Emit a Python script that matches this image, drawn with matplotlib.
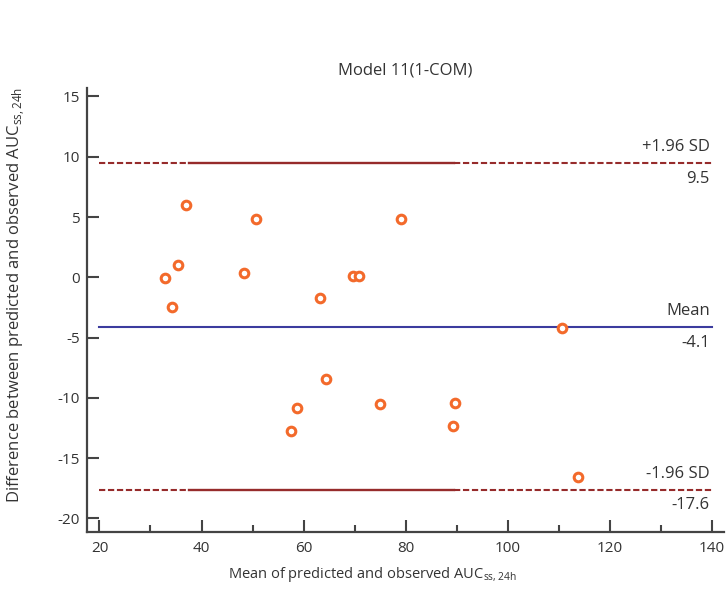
import matplotlib
matplotlib.use("Agg")
import matplotlib.pyplot as plt

plt.rcParams['font.family'] = ['Open Sans', 'DejaVu Sans']
plt.rcParams['axes.unicode_minus'] = False

# mean of predicted and observed / difference (Bland-Altman)
mean_auc = [37.0, 50.7, 79.0, 35.4, 32.9, 48.4, 34.3, 63.3, 69.7, 70.9,
            110.6, 64.4, 58.7, 57.6, 74.9, 89.7, 89.3, 113.8]
diff_auc = [6.0, 4.84, 4.84, 1.0, -0.03, 0.36, -2.44, -1.69, 0.13, 0.13,
            -4.2, -8.46, -10.87, -12.73, -10.54, -10.4, -12.32, -16.6]

mean_diff = -4.1
upper_loa = 9.5
lower_loa = -17.6
x_ticks = [20, 40, 60, 80, 100, 120, 140]
y_ticks = [15, 10, 5, 0, -5, -10, -15, -20]

txt = '#333333'
axc = '#444444'
red = '#962B2B'
blue = '#3C3C9E'
orange = '#F36A2B'

fig = plt.figure(figsize=(7.28, 5.91), dpi=100)
ax = fig.add_axes([0.1191, 0.1003, 0.8754, 0.7507])

# limit lines: dashed outside, solid middle part
for lv in (upper_loa, lower_loa):
    ax.plot([20, 37.6], [lv, lv], color=red, lw=1.5, ls=(0, (3, 1.3)))
    ax.plot([37.6, 89.5], [lv, lv], color=red, lw=1.7)
    ax.plot([89.5, 140], [lv, lv], color=red, lw=1.5, ls=(0, (3, 1.3)))
ax.plot([20, 140], [mean_diff, mean_diff], color=blue, lw=1.5)

ax.plot(mean_auc, diff_auc, 'o', ms=6.2, mfc='white', mec=orange, mew=2.2)

# labels at right end of lines
for lv, top, bot in ((upper_loa, '+1.96 SD', '9.5'),
                     (mean_diff, 'Mean', '-4.1'),
                     (lower_loa, '-1.96 SD', '-17.6')):
    ax.annotate(top, (139.6, lv), xytext=(0, 11.5), textcoords='offset points',
                ha='right', va='center', fontsize=12, color=txt)
    ax.annotate(bot, (139.6, lv), xytext=(0, -11.5), textcoords='offset points',
                ha='right', va='center', fontsize=12, color=txt)

ax.set_xlim(17.5, 142.4)
ax.set_ylim(-21.1, 15.7)
ax.set_xticks(x_ticks)
ax.set_xticks(range(30, 140, 20), minor=True)
ax.set_yticks(y_ticks)

for s in ('top', 'right'):
    ax.spines[s].set_visible(False)
for s in ('left', 'bottom'):
    ax.spines[s].set_color(axc)
    ax.spines[s].set_linewidth(1.6)

ax.tick_params(which='major', direction='in', length=8.6, width=1.5, color=axc,
               labelsize=11, labelcolor=txt)
ax.tick_params(which='minor', direction='in', length=4.7, width=1.5, color=axc)
ax.tick_params(axis='y', pad=5)
ax.tick_params(axis='x', pad=7)

ax.set_title('Model 11(1-COM)', fontsize=12, color=txt, pad=10)
ax.set_xlabel(r'Mean of predicted and observed AUC$_{\mathregular{ss,24h}}$',
              fontsize=10.5, color=txt, labelpad=6)
ax.xaxis.set_label_coords(0.448, -0.075)
ax.set_ylabel(r'Difference between predicted and observed AUC$_{\mathregular{ss,24h}}$',
              fontsize=12, color=txt, labelpad=8)
ax.yaxis.set_label_coords(-0.094, 0.533)

fig.savefig('out.png', dpi=100)
